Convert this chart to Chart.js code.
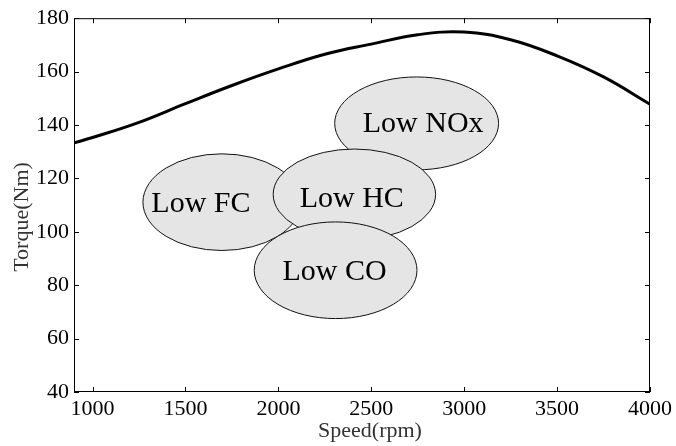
<!DOCTYPE html>
<html>
<head>
<meta charset="utf-8">
<script src="https://cdn.jsdelivr.net/npm/chart.js@4.4.1/dist/chart.umd.min.js"></script>
<style>
  html,body{margin:0;padding:0;background:#fff;}
  canvas{display:block;}
</style>
</head>
<body>
<canvas id="torque" width="676" height="446"></canvas>
<script>
const speed=[900,1000,1250,1500,1750,2000,2250,2500,2750,3000,3250,3500,3750,4000];
const torque=[133.3,135.3,141,148,154.8,161,166.5,170.3,173.8,174.8,171.9,165.9,158,147.8];
const xTicks=[1000,1500,2000,2500,3000,3500,4000];
const yTicks=[40,60,80,100,120,140,160,180];

// emission regions, in data units (drawn in this order)
const regionNames=["Low NOx","Low FC","Low HC","Low CO"];
const regionSpeed=[2744,1696,2409,2308];
const regionTorque=[140.6,111.1,114,85.6];
const regionSpeedRadius=[441,425,437,438];
const regionTorqueRadius=[17.4,18.1,17,18.1];
const labelSpeed=[2779,1583,2395,2302];
const labelTorque=[140.4,110.4,112.4,85];

const serif="'Liberation Serif','Times New Roman',serif";

const regionsPlugin={
    id:"regions",
    afterDatasetsDraw:function(chart){
        const ctx=chart.ctx;
        const x=chart.scales.x, y=chart.scales.y;
        ctx.save();
        for(let i=0;i<regionNames.length;i++){
            let cx=x.getPixelForValue(regionSpeed[i]);
            let cy=y.getPixelForValue(regionTorque[i]);
            let rx=Math.abs(x.getPixelForValue(regionSpeed[i]+regionSpeedRadius[i])-cx);
            let ry=Math.abs(y.getPixelForValue(regionTorque[i]+regionTorqueRadius[i])-cy);
            ctx.beginPath();
            ctx.ellipse(cx,cy,rx,ry,0,0,Math.PI*2);
            ctx.fillStyle="#e5e5e5";
            ctx.fill();
            ctx.lineWidth=1;
            ctx.strokeStyle="#111";
            ctx.stroke();
            ctx.fillStyle="#000";
            ctx.font="30px "+serif;
            ctx.textAlign="center";
            ctx.textBaseline="middle";
            ctx.fillText(regionNames[i],x.getPixelForValue(labelSpeed[i]),y.getPixelForValue(labelTorque[i]));
        }
        ctx.restore();
    }
};

const framePlugin={
    id:"frame",
    afterDraw:function(chart){
        const ctx=chart.ctx;
        const a=chart.chartArea;
        const x=chart.scales.x, y=chart.scales.y;
        const len=5;
        ctx.save();
        ctx.strokeStyle="#000";
        ctx.lineWidth=1;
        ctx.strokeRect(a.left+0.5,a.top+0.5,a.right-a.left-1,a.bottom-a.top-1);
        ctx.beginPath();
        x.ticks.forEach(t=>{
            let px=Math.round(x.getPixelForValue(t.value))+0.5;
            ctx.moveTo(px,a.bottom);ctx.lineTo(px,a.bottom-len);
            ctx.moveTo(px,a.top);ctx.lineTo(px,a.top+len);
        });
        y.ticks.forEach(t=>{
            let py=Math.round(y.getPixelForValue(t.value))+0.5;
            ctx.moveTo(a.left,py);ctx.lineTo(a.left+len,py);
            ctx.moveTo(a.right,py);ctx.lineTo(a.right-len,py);
        });
        ctx.stroke();

        // axis titles
        ctx.fillStyle="#333";
        ctx.font="22px "+serif;
        ctx.textAlign="center";
        ctx.textBaseline="middle";
        ctx.fillText("Speed(rpm)",370,431);
        ctx.translate(22,217);
        ctx.rotate(-Math.PI/2);
        ctx.fillText("Torque(Nm)",0,0);
        ctx.restore();
    }
};

const chart=new Chart(document.getElementById("torque"),{
    type:"line",
    data:{
        datasets:[{
            data:speed.map((s,i)=>({x:s,y:torque[i]})),
            borderColor:"#000",
            borderWidth:3,
            pointRadius:0,
            tension:0.4,
            fill:false
        }]
    },
    options:{
        responsive:false,
        animation:false,
        devicePixelRatio:1,
        layout:{padding:{top:18,right:24,left:0,bottom:0}},
        plugins:{legend:{display:false},tooltip:{enabled:false}},
        scales:{
            x:{
                type:"linear",
                min:900,
                max:4000,
                afterBuildTicks:s=>{s.ticks=xTicks.map(v=>({value:v}));},
                afterFit:s=>{s.height=54;},
                grid:{display:false,drawTicks:false},
                border:{display:false},
                ticks:{color:"#000",font:{family:serif,size:22},padding:4,maxRotation:0,autoSkip:false,callback:v=>String(v)}
            },
            y:{
                min:40,
                max:180,
                afterBuildTicks:s=>{s.ticks=yTicks.map(v=>({value:v}));},
                afterFit:s=>{s.width=74;},
                grid:{display:false,drawTicks:false},
                border:{display:false},
                ticks:{color:"#000",font:{family:serif,size:22},padding:5,autoSkip:false,callback:v=>String(v)}
            }
        }
    },
    plugins:[regionsPlugin,framePlugin]
});
</script>
</body>
</html>
